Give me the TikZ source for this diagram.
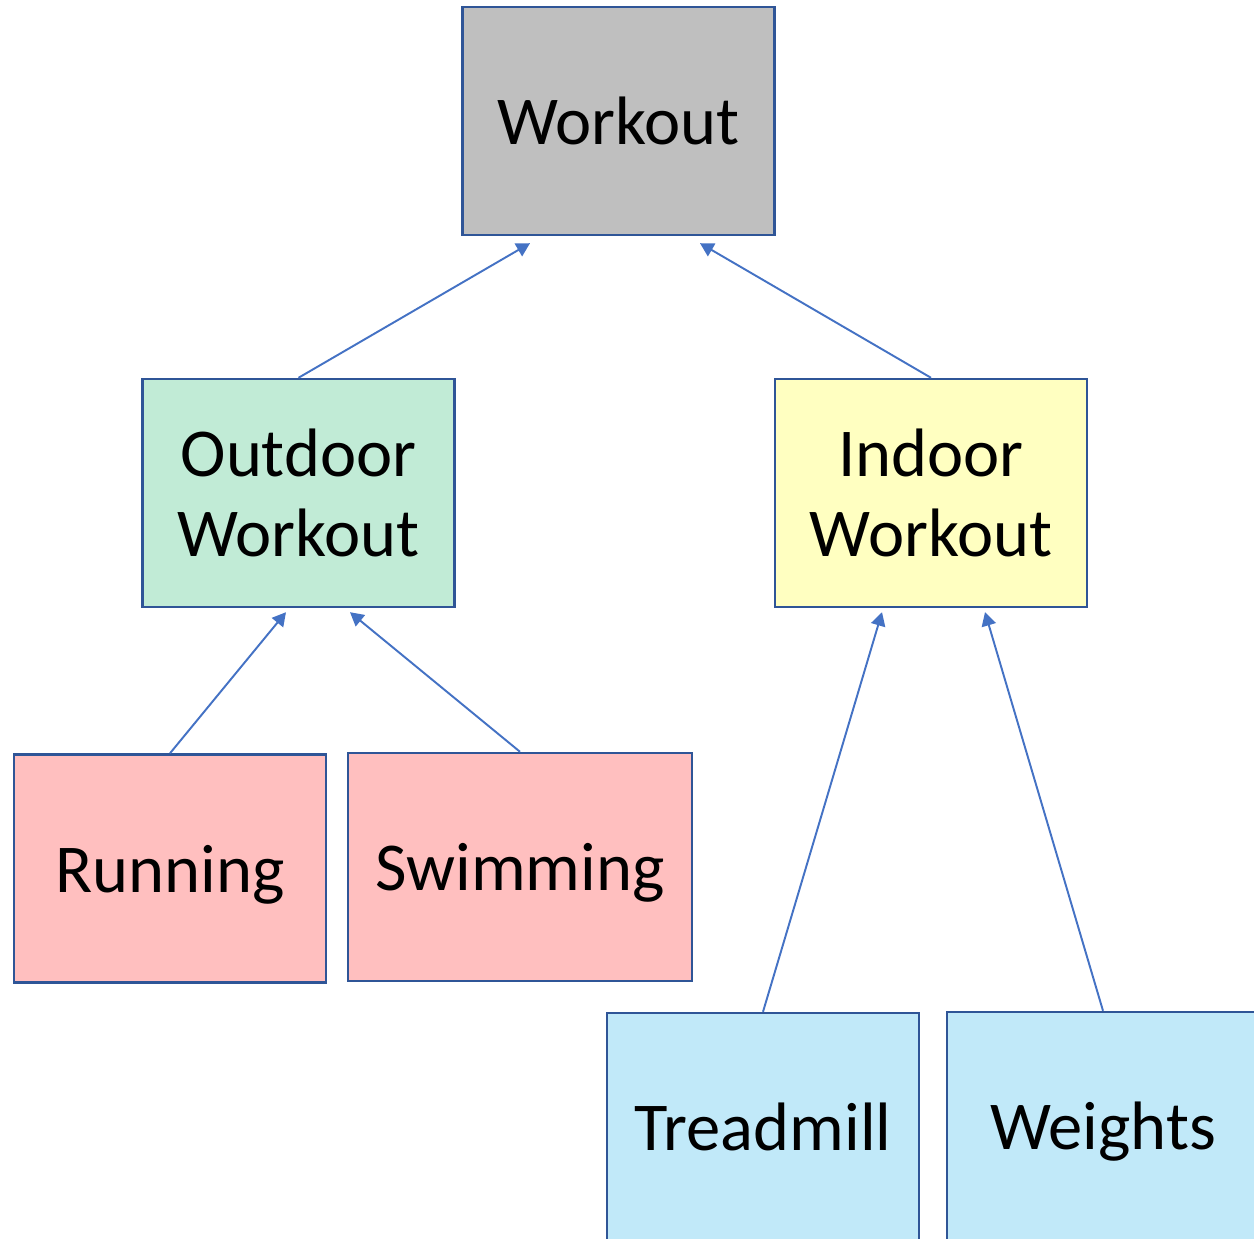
\documentclass[tikz,border=0pt]{standalone}
\usepackage{fontspec}
\setmainfont{Carlito}
\usepackage{xcolor}
\usetikzlibrary{arrows.meta, positioning}

\definecolor{edgeblue}{HTML}{2F5597}
\definecolor{arrowblue}{HTML}{4472C4}
\definecolor{rootgray}{HTML}{BFBFBF}
\definecolor{outgreen}{HTML}{C1EBD6}
\definecolor{inyellow}{HTML}{FFFFC1}
\definecolor{outpink}{HTML}{FFBFBF}
\definecolor{inblue}{HTML}{C1E9F9}

\begin{document}
\begin{tikzpicture}[
  x=0.02cm, y=-0.02cm,
  box/.style={draw=edgeblue, line width=1.4pt, minimum width=6.24cm, minimum height=4.56cm, inner sep=0pt, align=center, font=\fontsize{39}{46}\selectfont},
  leaf/.style={box, text depth=0pt},
  arrow/.style={-{Triangle[length=0.27cm, width=0.29cm]}, line width=1.1pt, arrowblue},
]
\useasboundingbox (0,0) rectangle (1254,1239);

% oberste Ebene
\node[box, fill=rootgray] (workout) at (618.5,121) {Workout};

% zweite Ebene
\node[box, fill=outgreen] (outdoor) at (298.5,493) {Outdoor\\Workout};
\node[box, fill=inyellow] (indoor) at (931,493) {Indoor\\Workout};

% Blätter
\node[leaf, fill=outpink] (running) at (170,868.5) {Running};
\node[leaf, fill=outpink, minimum width=6.88cm] (swimming) at (520,867) {Swimming};
\node[leaf, fill=inblue] (treadmill) at (763,1127) {Treadmill};
\node[leaf, fill=inblue] (weights) at (1103,1126) {Weights};

% Vererbungspfeile
\draw[arrow] (outdoor.north) -- ([xshift=-1.77cm, yshift=-0.14cm]workout.south);
\draw[arrow] (indoor.north) -- ([xshift=1.63cm, yshift=-0.14cm]workout.south);
\draw[arrow] (running.north) -- ([xshift=-0.25cm, yshift=-0.08cm]outdoor.south);
\draw[arrow] (swimming.north) -- ([xshift=1.03cm, yshift=-0.08cm]outdoor.south);
\draw[arrow] (treadmill.north) -- ([xshift=-0.98cm, yshift=-0.08cm]indoor.south);
\draw[arrow] (weights.north) -- ([xshift=1.08cm, yshift=-0.08cm]indoor.south);

\end{tikzpicture}
\end{document}
